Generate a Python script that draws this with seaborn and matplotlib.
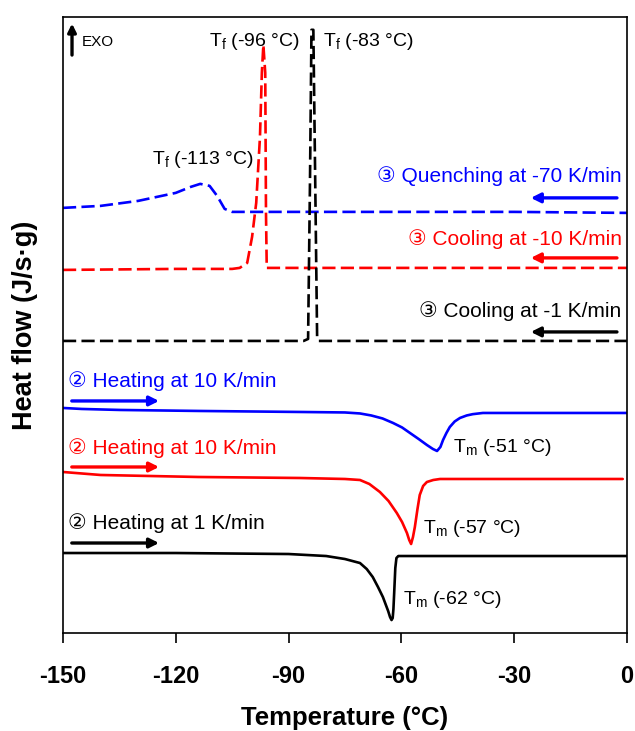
import matplotlib
matplotlib.use("Agg")
import matplotlib.pyplot as plt
import seaborn as sns

# DSC curves (x: temperature in degC, y: heat flow, arbitrary offset units)
quench_T = [-150, -140, -130, -120, -116, -113.5, -111, -109, -107, -105, -60, -30, 0]
quench_h = [425, 427, 432, 440, 446, 449, 447, 437, 424, 421, 421, 421, 420]

cool10_T = [-150, -120, -105, -103, -101, -99.7, -98.6, -97.6, -97.1, -96.7, -96.2, -96.0, -95.8, -60, -30, 0]
cool10_h = [363, 364, 364, 365, 370, 396, 430, 496, 560, 588, 560, 420, 365, 365, 365, 365]

cool1_T = [-150, -120, -86, -84.8, -84.3, -83.9, -83.4, -82.9, -82.4, -82.0, -60, -30, 0]
cool1_h = [292, 292, 292, 294, 450, 603, 603, 450, 296, 292, 292, 292, 292]

heat10b_T = [-150, -145, -134.8, -113.6, -87, -75, -71, -68, -65, -62.2, -59.8, -57.7, -55.4, -53.2, -51.6, -50.5,
             -49.6, -48.9, -48.0, -47.1, -45.8, -44.4, -42.6, -41, -38.3, 0]
heat10b_h = [225, 224, 223, 222, 221, 220.5, 219.5, 217.5, 214.5, 210, 205.5, 200, 194, 188, 184, 182,
             186, 193, 200, 206, 211.5, 215, 217.5, 218.8, 220, 220]

heat10r_T = [-150, -140, -114, -87, -75, -71, -68.5, -65.7, -63.4, -61.2, -59.8, -58.5, -57.9, -57.4, -56.9,
             -56.4, -55.7, -55.1, -54.2, -53.2, -51.5, -49.7, -1.1]
heat10r_h = [161, 158, 156, 155, 154, 153, 149, 141, 132, 120, 111, 100, 93, 89, 96,
             106, 124, 138, 147, 151, 153, 154, 154]

heat1_T = [-150, -120, -90, -80, -75, -71, -69.2, -67.6, -66.2, -64.9, -63.5, -63.0, -62.6, -62.3, -62.1, -61.9,
           -61.6, -61.3, -60.8, 0]
heat1_h = [80, 80, 79, 77, 74, 70, 64, 56, 46, 36, 22, 16, 13, 15, 24, 40, 65, 75, 77, 77]

xticks = [-150, -120, -90, -60, -30, 0]

sns.set_style("ticks")
plt.rcParams['font.family'] = ['Liberation Sans', 'DejaVu Sans']
plt.rcParams['axes.unicode_minus'] = False
plt.rcParams['text.color'] = 'black'
plt.rcParams['axes.labelcolor'] = 'black'
plt.rcParams['xtick.color'] = 'black'
plt.rcParams['mathtext.fontset'] = 'custom'
plt.rcParams['mathtext.rm'] = 'Liberation Sans'
plt.rcParams['mathtext.it'] = 'Liberation Sans'

fig = plt.figure(figsize=(6.35, 7.31), dpi=100)
ax = fig.add_axes([0.0992, 0.134, 0.888, 0.843])

BLUE, RED, BLACK = '#0000FF', '#FF0000', '#000000'
dash = (0, (5, 2))
lw = 1.9

curves = [
    (quench_T, quench_h, BLUE, dash),
    (cool10_T, cool10_h, RED, dash),
    (cool1_T, cool1_h, BLACK, dash),
    (heat10b_T, heat10b_h, BLUE, '-'),
    (heat10r_T, heat10r_h, RED, '-'),
    (heat1_T, heat1_h, BLACK, '-'),
]
for T, h, c, ls in curves:
    sns.lineplot(x=T, y=h, sort=False, estimator=None, color=c, lw=lw,
                 linestyle=ls, ax=ax, legend=False)

ax.set_xlim(-150, 0)
ax.set_ylim(0, 616)
ax.set_xticks(xticks)
ax.set_yticks([])
for s in ax.spines.values():
    s.set_linewidth(1.2)
    s.set_color('black')
ax.tick_params(axis='x', direction='out', length=7, width=1.2, pad=16, colors='black')

for lab in ax.get_xticklabels():
    lab.set_fontweight('bold')
    lab.set_fontsize(17)
ax.set_xlabel('Temperature (°C)', fontweight='bold', fontsize=18.5, labelpad=13)
ax.set_ylabel('Heat flow (J/s·g)', fontweight='bold', fontsize=19.5, labelpad=18)

fs = 14
fs2 = 15
fam = ['Liberation Sans', 'DejaVu Sans']
# peak labels
ax.text(-87.0, 591, r'$\mathrm{T_f}$ (-96 °C)', ha='right', va='center', fontsize=fs, family=fam)
ax.text(-80.9, 591, r'$\mathrm{T_f}$ (-83 °C)', ha='left', va='center', fontsize=fs, family=fam)
ax.text(-126.3, 473, r'$\mathrm{T_f}$ (-113 °C)', ha='left', va='center', fontsize=fs, family=fam)
ax.text(-46.3, 185, r'$\mathrm{T_m}$ (-51 °C)', ha='left', va='center', fontsize=fs, family=fam)
ax.text(-54.3, 105, r'$\mathrm{T_m}$ (-57 °C)', ha='left', va='center', fontsize=fs, family=fam)
ax.text(-59.6, 34, r'$\mathrm{T_m}$ (-62 °C)', ha='left', va='center', fontsize=fs, family=fam)

# cooling labels with arrows
cool_labels = [('③ Quenching at -70 K/min', BLUE, 457, 435),
               ('③ Cooling at -10 K/min', RED, 394, 375),
               ('③ Cooling at -1 K/min', BLACK, 322, 301)]
for txt, c, ty, ay in cool_labels:
    ax.text(-1.4, ty, txt, ha='right', va='center', fontsize=fs2, color=c, family=fam)
    ax.annotate('', xy=(-26.3, ay), xytext=(-1.9, ay),
                arrowprops=dict(arrowstyle='-|>', color=c, lw=2.4, mutation_scale=14))

heat_labels = [('② Heating at 10 K/min', BLUE, 252, 232),
               ('② Heating at 10 K/min', RED, 185, 166),
               ('② Heating at 1 K/min', BLACK, 110, 90)]
for txt, c, ty, ay in heat_labels:
    ax.text(-148.7, ty, txt, ha='left', va='center', fontsize=fs2, color=c, family=fam)
    ax.annotate('', xy=(-123.7, ay), xytext=(-148.4, ay),
                arrowprops=dict(arrowstyle='-|>', color=c, lw=2.4, mutation_scale=14))

# EXO marker
ax.annotate('', xy=(-147.6, 612), xytext=(-147.6, 575),
            arrowprops=dict(arrowstyle='-|>', color='black', lw=2.4, mutation_scale=12))
ax.text(-145.0, 591, 'EXO', ha='left', va='center', fontsize=11, family=fam)

fig.savefig('out.png', dpi=100)
